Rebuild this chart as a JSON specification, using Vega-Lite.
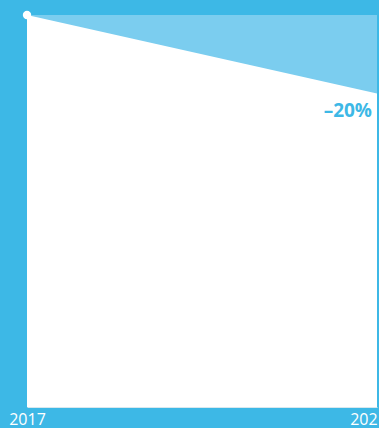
{
  "$schema": "https://vega.github.io/schema/vega-lite/v6.json",
  "width": 350,
  "height": 392,
  "autosize": "none",
  "padding": {"left": 27, "top": 15, "right": 2, "bottom": 21},
  "background": "#3DB8E6",
  "config": {"view": {"stroke": null, "fill": "#3DB8E6"}, "font": "Open Sans"},
  "data": {"values": [
    {"year": 2017, "value": 100, "top": 100, "label": ""},
    {"year": 2021, "value": 80, "top": 100, "label": "–20%"}
  ]},
  "encoding": {
    "x": {"field": "year", "type": "quantitative", "scale": {"domain": [2017, 2021], "nice": false, "zero": false},
      "axis": {"values": [2017, 2021], "format": "d", "title": null, "ticks": false, "grid": false, "domain": true, "domainColor": "#d8e8ee", "domainWidth": 1, "labelColor": "#ffffff", "labelFontSize": 16, "labelFont": "Open Sans", "labelPadding": 4, "labelFlush": false, "labelOverlap": false,
        "labelOffset": {"condition": {"test": "datum.value == 2021", "value": -9}, "value": 0}}}
  },
  "layer": [
    {"mark": {"type": "area", "color": "#7BCDEF", "opacity": 1},
     "encoding": {"y": {"field": "top", "type": "quantitative", "scale": {"domain": [0, 100], "nice": false}, "axis": null}}},
    {"mark": {"type": "area", "color": "#ffffff", "opacity": 1},
     "encoding": {"y": {"field": "value", "type": "quantitative", "scale": {"domain": [0, 100], "nice": false}, "axis": null}}},
    {"mark": {"type": "point", "filled": true, "color": "#ffffff", "size": 70, "opacity": 1},
     "transform": [{"filter": "datum.year == 2017"}],
     "encoding": {"y": {"field": "value", "type": "quantitative"}}},
    {"mark": {"type": "text", "color": "#3DB8E6", "fontSize": 19, "fontWeight": "bold", "font": "Open Sans", "align": "right", "baseline": "middle", "dx": -5, "dy": 18},
     "transform": [{"filter": "datum.year == 2021"}],
     "encoding": {"y": {"field": "value", "type": "quantitative"}, "text": {"field": "label"}}}
  ]
}
